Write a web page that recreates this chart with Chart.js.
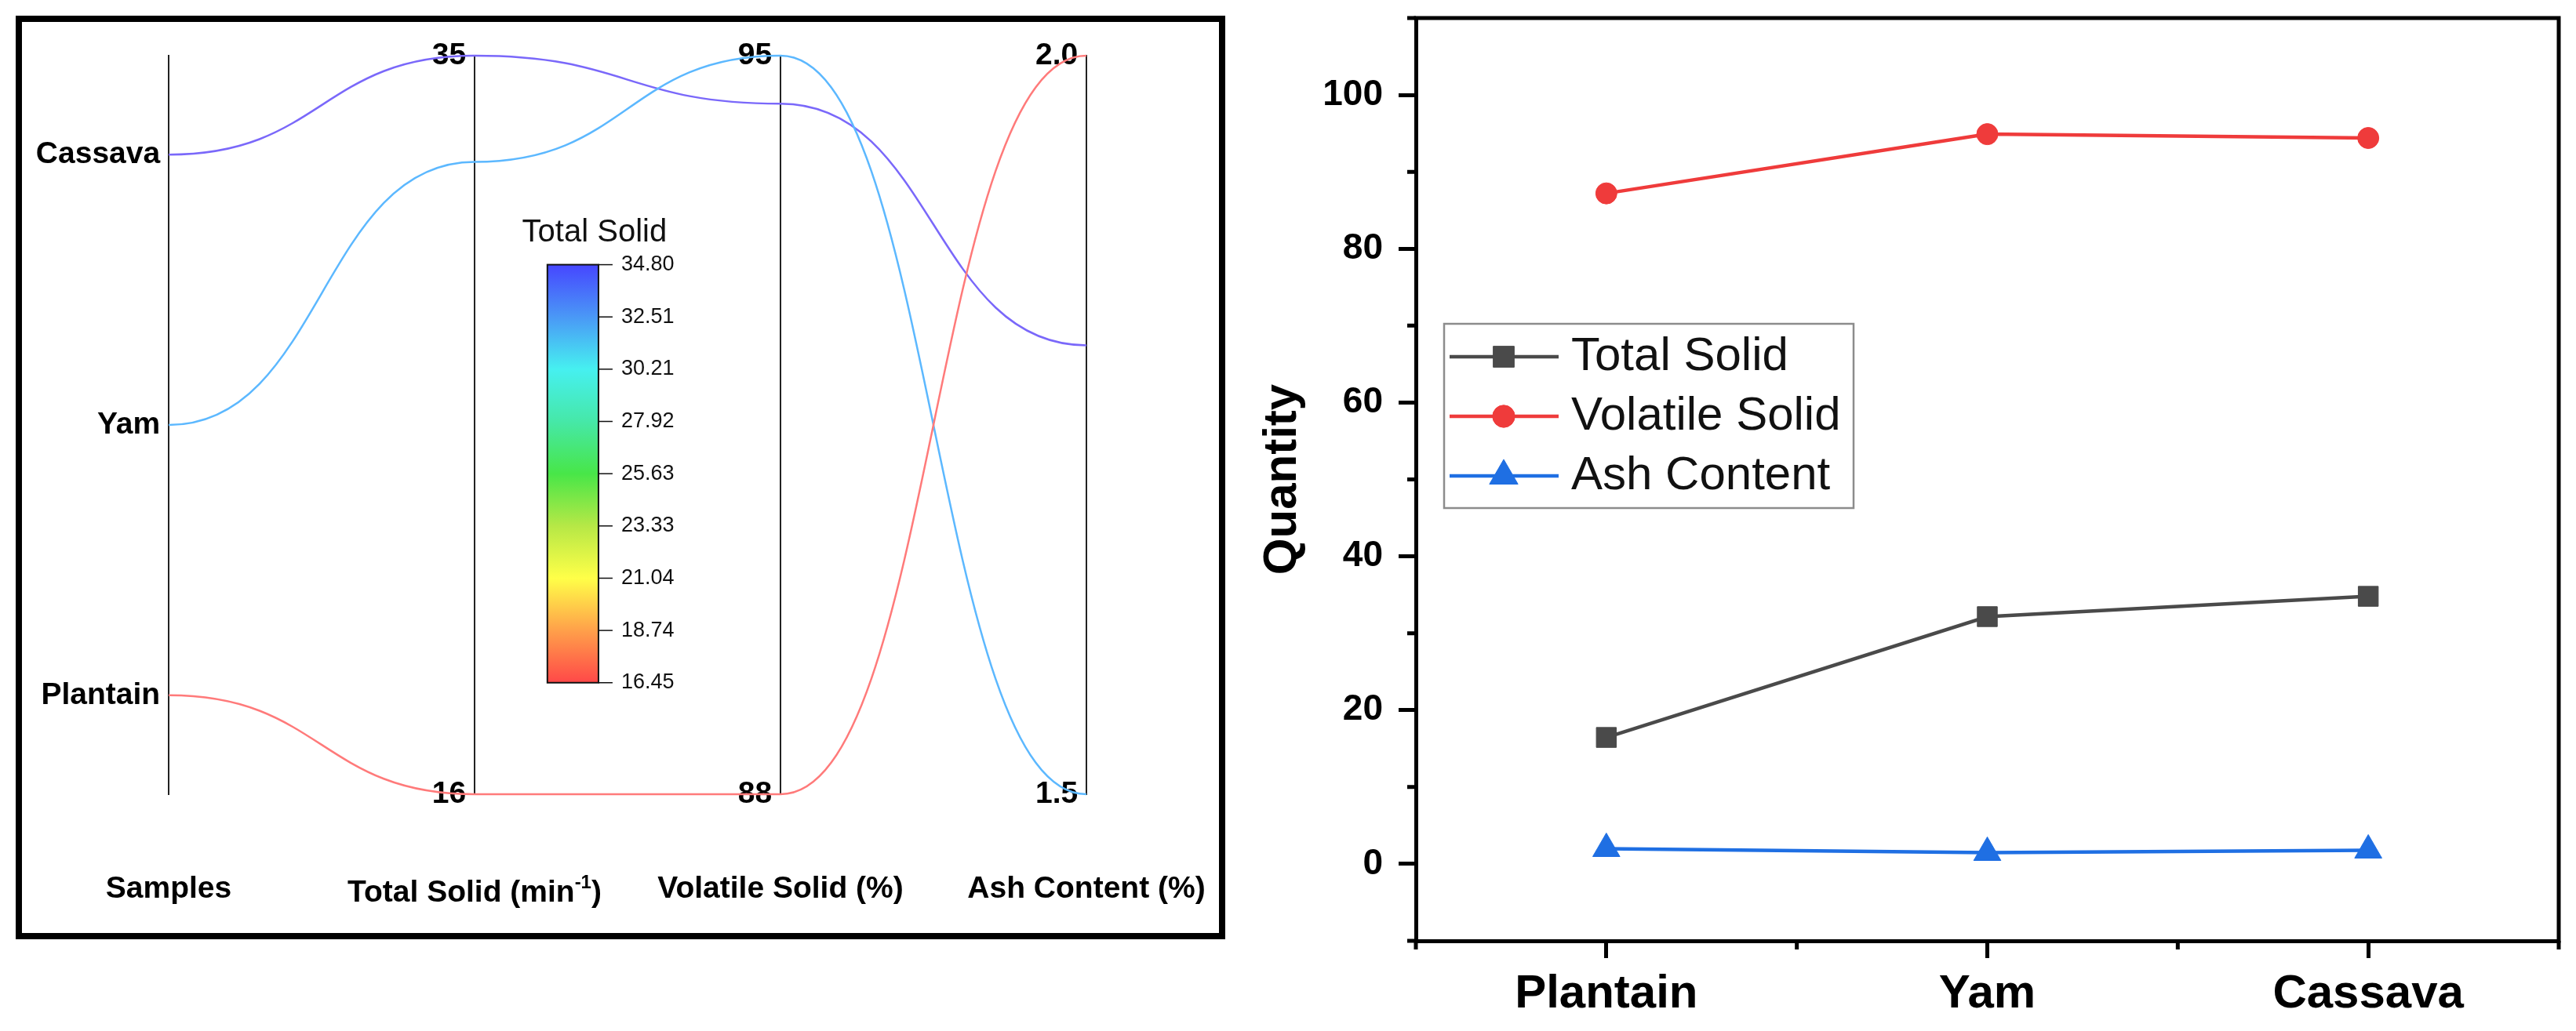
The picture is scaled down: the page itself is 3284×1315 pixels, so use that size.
<!DOCTYPE html>
<html>
<head>
<meta charset="utf-8">
<script src="https://cdn.jsdelivr.net/npm/chart.js@4.4.1/dist/chart.umd.min.js"></script>
<style>
  html, body { margin: 0; padding: 0; background: #fff; }
  body { width: 3284px; height: 1315px; position: relative; overflow: hidden; }
  #leftBox { position: absolute; left: 20px; top: 20px; width: 1542px; height: 1178px;
             box-sizing: border-box; border: 8px solid #000; }
  #parallelChart { position: absolute; left: 0; top: 0; }
  #lineChart { position: absolute; left: 1560px; top: 0; }
</style>
</head>
<body>
<div id="leftBox"><canvas id="parallelChart" width="1526" height="1162"></canvas></div>
<canvas id="lineChart" width="1724" height="1315"></canvas>
<script>
// data
const samples = ['Plantain', 'Yam', 'Cassava'];
const totalSolid = [16.45, 32.16, 34.80];
const volatileSolid = [87.2, 94.9, 94.4];
const ashContent = [1.98, 1.47, 1.78];

const seriesNames = ['Total Solid', 'Volatile Solid', 'Ash Content'];
const parallelTitles = ['Samples', 'Total Solid (min⁻¹)', 'Volatile Solid (%)', 'Ash Content (%)'];

// end labels of the parallel axes, [bottom, top]
const tsAxisLabels = ['16', '35'];
const vsAxisLabels = ['88', '95'];
const ashAxisLabels = ['1.5', '2.0'];
const colorbarLabels = ['34.80', '32.51', '30.21', '27.92', '25.63', '23.33', '21.04', '18.74', '16.45'];

// right chart ticks
const yMajorTicks = [0, 20, 40, 60, 80, 100];
const yMinorTicks = [-10, 10, 30, 50, 70, 90, 110];

const FONT = "'Liberation Sans', Arial, sans-serif";
Chart.defaults.font.family = FONT;
Chart.defaults.color = '#000';
Chart.defaults.animation = false;

// ---------- left: parallel coordinates ----------
const sampleColors = ['#ff7a7a', '#5cb8ff', '#7a68fa'];
const colorbarStops = ['#4646ff', '#4a98f6', '#46f0f0', '#46e8a8', '#48e648', '#b6e846', '#ffff48', '#ffa04a', '#ff4848'];
const SAMPLE_MIN = -0.366, SAMPLE_MAX = 2.366;

function lo(arr) { return Math.min(...arr); }
function hi(arr) { return Math.max(...arr); }
function norm(v, arr) { return (v - lo(arr)) / (hi(arr) - lo(arr)); }
function sampleNorm(i) { return (i - SAMPLE_MIN) / (SAMPLE_MAX - SAMPLE_MIN); }

const parallelDatasets = samples.map((name, i) => ({
  label: name,
  data: [
    {x: 0, y: sampleNorm(i)},
    {x: 1, y: norm(totalSolid[i], totalSolid)},
    {x: 2, y: norm(volatileSolid[i], volatileSolid)},
    {x: 3, y: norm(ashContent[i], ashContent)}
  ],
  xAxisID: 'x',
  yAxisID: 'yn',
  borderColor: sampleColors[i],
  borderWidth: 2.5,
  pointRadius: 0,
  tension: 0.4,
  clip: false
}));

function parallelAxis(pos, min, max, tickValues, labelFor) {
  return {
    type: 'linear',
    axis: 'y',
    position: {x: pos},
    min: min,
    max: max,
    grid: {display: false, drawTicks: false},
    border: {display: true, color: '#222', width: 2},
    afterBuildTicks: s => { s.ticks = tickValues(s).map(v => ({value: v})); },
    ticks: {
      autoSkip: false,
      color: '#000',
      font: {size: 39, weight: 'bold'},
      // positioned axes ignore ticks.padding, so keep a small gap with a space
      callback: (v, i) => labelFor(v, i) + ' '
    }
  };
}

// each segment leaves and enters an axis horizontally, like the Origin curve mode
const sCurvePlugin = {
  id: 'sCurve',
  beforeDatasetDraw(chart, args) {
    const meta = args.meta;
    if (!meta.dataset) return;
    meta.dataset.updateControlPoints(chart.chartArea, 'x');
    const pts = meta.data;
    pts.forEach((p, i) => {
      const prev = pts[i - 1], next = pts[i + 1];
      p.cp1x = prev ? p.x - (p.x - prev.x) * 0.5 : p.x;
      p.cp1y = p.y;
      p.cp2x = next ? p.x + (next.x - p.x) * 0.5 : p.x;
      p.cp2y = p.y;
    });
  }
};

function drawTitle(ctx, text, cx, baseY) {
  const main = 'bold 39px ' + FONT, sup = 'bold 24px ' + FONT;
  const parts = text.split('⁻¹');
  ctx.textBaseline = 'alphabetic';
  if (parts.length === 1) {
    ctx.font = main; ctx.textAlign = 'center';
    ctx.fillText(text, cx, baseY);
    return;
  }
  ctx.font = main;
  const w1 = ctx.measureText(parts[0]).width, w3 = ctx.measureText(parts[1]).width;
  ctx.font = sup;
  const w2 = ctx.measureText('-1').width;
  let x = cx - (w1 + w2 + w3) / 2;
  ctx.textAlign = 'left';
  ctx.font = main; ctx.fillText(parts[0], x, baseY + 5); x += w1;
  ctx.font = sup; ctx.fillText('-1', x, baseY - 12); x += w2;
  ctx.font = main; ctx.fillText(parts[1], x, baseY + 5);
}

const parallelDecor = {
  id: 'parallelDecor',
  afterDraw(chart) {
    const {ctx, chartArea: a} = chart;
    const X = chart.scales.x, Y = chart.scales.yn;
    ctx.save();
    ctx.fillStyle = '#000';
    parallelTitles.forEach((t, i) => drawTitle(ctx, t, X.getPixelForValue(i), a.bottom + 132));

    // colour scale legend
    const l = X.getPixelForValue(1.238), r = X.getPixelForValue(1.405);
    const t = Y.getPixelForValue(0.717), b = Y.getPixelForValue(0.151);
    const g = ctx.createLinearGradient(0, t, 0, b);
    colorbarStops.forEach((c, k) => g.addColorStop(k / (colorbarStops.length - 1), c));
    ctx.fillStyle = g;
    ctx.fillRect(l, t, r - l, b - t);
    ctx.strokeStyle = '#111';
    ctx.lineWidth = 2;
    ctx.strokeRect(l, t, r - l, b - t);
    ctx.fillStyle = '#111';
    ctx.font = '27px ' + FONT;
    ctx.textAlign = 'left';
    ctx.textBaseline = 'middle';
    ctx.lineWidth = 1.5;
    colorbarLabels.forEach((lab, k) => {
      const yy = t + (b - t) * k / (colorbarLabels.length - 1);
      ctx.beginPath(); ctx.moveTo(r, yy); ctx.lineTo(r + 18, yy); ctx.stroke();
      ctx.fillText(lab, r + 29, yy);
    });
    ctx.font = '40px ' + FONT;
    ctx.textAlign = 'center';
    ctx.textBaseline = 'alphabetic';
    ctx.fillText(seriesNames[0], X.getPixelForValue(1.392), Y.getPixelForValue(0.748));
    ctx.restore();
  }
};

new Chart(document.getElementById('parallelChart'), {
  type: 'line',
  data: {datasets: parallelDatasets},
  options: {
    responsive: false,
    animation: false,
    layout: {padding: {left: 187, right: 169, top: 43, bottom: 177}},
    plugins: {legend: {display: false}, tooltip: {enabled: false}},
    scales: {
      x: {type: 'linear', min: 0, max: 3, display: false},
      yn: {type: 'linear', min: 0, max: 1, display: false},
      ys: parallelAxis(0, SAMPLE_MIN, SAMPLE_MAX, () => samples.map((_, i) => i), v => samples[v]),
      yts: parallelAxis(1, lo(totalSolid), hi(totalSolid), s => [s.min, s.max], (v, i) => tsAxisLabels[i]),
      yvs: parallelAxis(2, lo(volatileSolid), hi(volatileSolid), s => [s.min, s.max], (v, i) => vsAxisLabels[i]),
      yash: parallelAxis(3, lo(ashContent), hi(ashContent), s => [s.min, s.max], (v, i) => ashAxisLabels[i])
    }
  },
  plugins: [sCurvePlugin, parallelDecor]
});

// ---------- right: line chart ----------
const seriesColors = ['#4a4a4a', '#ef3b3b', '#1f6fe3'];
const seriesMarkers = ['rect', 'circle', 'triangle'];
const markerRadius = [18, 13.5, 20];
const seriesValues = [totalSolid, volatileSolid, ashContent];

const lineDatasets = seriesNames.map((name, i) => ({
  label: name,
  data: seriesValues[i],
  borderColor: seriesColors[i],
  backgroundColor: seriesColors[i],
  pointBackgroundColor: seriesColors[i],
  pointBorderColor: seriesColors[i],
  pointBorderWidth: 1,
  pointStyle: seriesMarkers[i],
  pointRadius: markerRadius[i],
  borderWidth: 4.5,
  tension: 0
}));

const framePlugin = {
  id: 'frame',
  afterDraw(chart) {
    const {ctx, chartArea: a, scales: {x, y}} = chart;
    ctx.save();
    ctx.strokeStyle = '#000';
    ctx.lineWidth = 5;
    ctx.beginPath();
    ctx.moveTo(a.left - 2.5, a.top);
    ctx.lineTo(a.right, a.top);
    ctx.lineTo(a.right, a.bottom + 2.5);
    ctx.stroke();
    ctx.beginPath();
    yMinorTicks.forEach(v => {
      const py = y.getPixelForValue(v);
      ctx.moveTo(a.left, py); ctx.lineTo(a.left - 11, py);
    });
    for (let i = 0; i <= samples.length; i++) {
      const px = x.getPixelForValue(i - 0.5);
      ctx.moveTo(px, a.bottom); ctx.lineTo(px, a.bottom + 11);
    }
    ctx.stroke();
    ctx.restore();
  }
};

const boxLegend = {
  id: 'boxLegend',
  afterDatasetsDraw(chart) {
    const {ctx, chartArea: a} = chart;
    const bx = a.left + 36, by = a.top + 390, bw = 522, bh = 235;
    ctx.save();
    ctx.fillStyle = '#fff';
    ctx.fillRect(bx, by, bw, bh);
    ctx.strokeStyle = '#8c8c8c';
    ctx.lineWidth = 2.5;
    ctx.strokeRect(bx, by, bw, bh);
    chart.data.datasets.forEach((ds, i) => {
      const cy = by + 42 + i * 76;
      ctx.strokeStyle = ds.borderColor;
      ctx.lineWidth = ds.borderWidth;
      ctx.beginPath();
      ctx.moveTo(bx + 7, cy);
      ctx.lineTo(bx + 146, cy);
      ctx.stroke();
      ctx.fillStyle = ds.borderColor;
      ctx.lineWidth = 1;
      Chart.helpers.drawPoint(ctx, {pointStyle: ds.pointStyle, radius: ds.pointRadius * 1.05, rotation: 0, borderWidth: 1}, bx + 76, cy);
      ctx.fillStyle = '#111';
      ctx.font = '60px ' + FONT;
      ctx.textAlign = 'left';
      ctx.textBaseline = 'middle';
      ctx.fillText(ds.label, bx + 162, cy);
    });
    ctx.restore();
  }
};

new Chart(document.getElementById('lineChart'), {
  type: 'line',
  data: {labels: samples, datasets: lineDatasets},
  options: {
    responsive: false,
    animation: false,
    layout: {padding: {left: 0, top: 23, right: 22, bottom: 0}},
    plugins: {legend: {display: false}, tooltip: {enabled: false}},
    scales: {
      x: {
        type: 'category',
        offset: true,
        grid: {offset: false, drawOnChartArea: false, tickLength: 22, tickWidth: 5, tickColor: '#000'},
        border: {color: '#000', width: 5},
        ticks: {font: {size: 60, weight: 'bold'}, color: '#000', padding: 10, maxRotation: 0},
        afterFit: s => { s.height = 115; s.paddingLeft = 0; s.paddingRight = 0; }
      },
      y: {
        type: 'linear',
        min: -10,
        max: 110,
        afterBuildTicks: s => { s.ticks = yMajorTicks.map(v => ({value: v})); },
        grid: {drawOnChartArea: false, tickLength: 22, tickWidth: 5, tickColor: '#000'},
        border: {color: '#000', width: 5},
        ticks: {font: {size: 46, weight: 'bold'}, color: '#000', padding: 20},
        title: {display: true, text: 'Quantity', font: {size: 60, weight: 'bold'}, color: '#000', padding: {top: 39, bottom: 0}},
        afterFit: s => { s.width = 245; s.paddingTop = 0; s.paddingBottom = 0; }
      }
    }
  },
  plugins: [framePlugin, boxLegend]
});
</script>
</body>
</html>
